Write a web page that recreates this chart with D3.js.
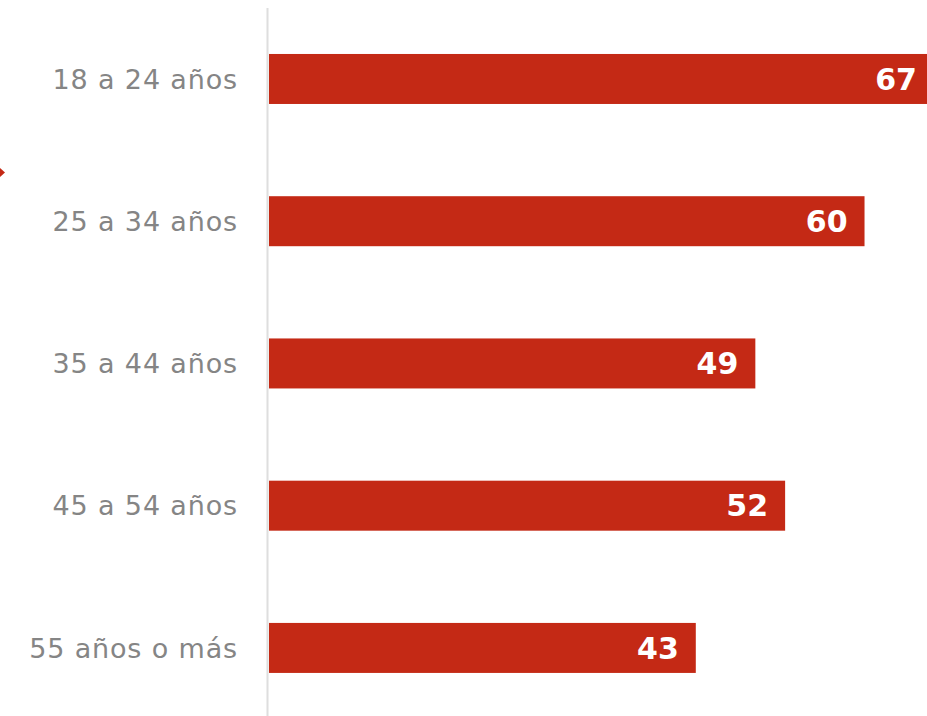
<!DOCTYPE html>
<html><head><meta charset="utf-8">
<script src="https://cdn.jsdelivr.net/npm/d3@7"></script>
<style>body{margin:0;background:#fff;overflow:hidden}svg{display:block}</style>
</head><body>
<script>
const categories = ["18 a 24 años","25 a 34 años","35 a 44 años","45 a 54 años","55 años o más"];
const values = [67, 60, 49, 52, 43];

const W = 927, H = 716;
const svg = d3.select("body").append("svg").attr("width", W).attr("height", H);

const x = d3.scaleLinear().domain([0, 67]).range([269, 934]);
const y = d3.scaleBand().domain(categories).range([11.3, 715.6]).paddingInner(0.6485).paddingOuter(0.3);

svg.append("line").attr("x1", 267.5).attr("x2", 267.5).attr("y1", 8).attr("y2", H)
  .attr("stroke", "#dedede").attr("stroke-width", 2);

svg.append("path").attr("d", "M0,168 L5,172.5 L0,177 Z").attr("fill", "#c42915");

svg.selectAll("rect.bar").data(values).join("rect").attr("class","bar")
  .attr("x", x(0)).attr("y", (d,i)=>y(categories[i]))
  .attr("width", d=>x(d)-x(0)).attr("height", y.bandwidth())
  .attr("fill", "#c42915");

svg.selectAll("text.cat").data(categories).join("text").attr("class","cat")
  .attr("x", 238).attr("y", d=>y(d)+y.bandwidth()/2).attr("dy","0.36em")
  .attr("text-anchor","end").attr("fill","#858585")
  .style("font-family","'DejaVu Sans', sans-serif").style("font-size","27px")
  .style("letter-spacing","0.85px")
  .text(d=>d);

svg.selectAll("text.val").data(values).join("text").attr("class","val")
  .attr("x", d=>x(d)-17).attr("y", (d,i)=>y(categories[i])+y.bandwidth()/2).attr("dy","0.36em")
  .attr("text-anchor","end").attr("fill","#fff")
  .style("font-family","'DejaVu Sans', sans-serif").style("font-size","30px").style("font-weight","700")
  .text(d=>d);
</script>
</body></html>
